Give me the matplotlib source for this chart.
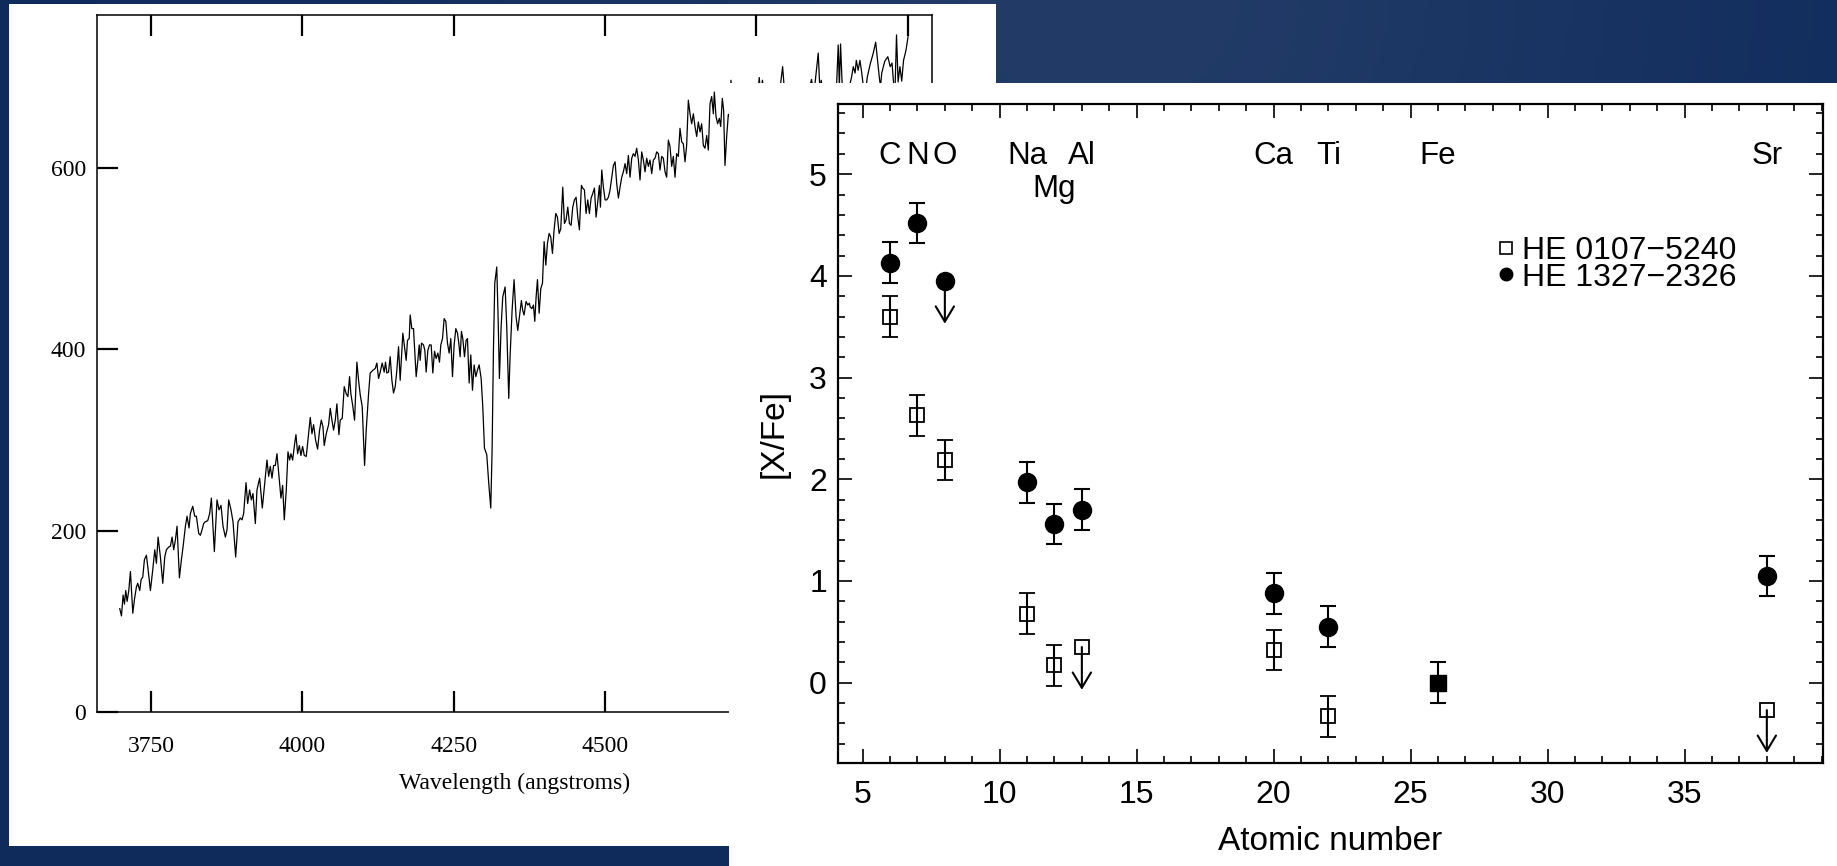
import numpy as np
import matplotlib
matplotlib.use("Agg")
import matplotlib.pyplot as plt
from matplotlib.patches import Rectangle
from matplotlib.lines import Line2D
from matplotlib.ticker import MultipleLocator

# ---------------- spectrum (wavelength in angstroms, flux counts) ----------------
wavelength = [
    3698.6, 3701.4, 3704.1, 3706.3, 3708.5, 3710.7, 3713.5, 3716.2, 3720.1, 3722.8,
    3726.1, 3728.3, 3731.6, 3733.8, 3736.6, 3739.3, 3742.6, 3745.4, 3749.2, 3753.1,
    3756.4, 3759.1, 3761.9, 3765.7, 3769.6, 3772.9, 3775.6, 3779.5, 3782.2, 3785.0,
    3787.7, 3790.5, 3793.2, 3797.1, 3800.4, 3803.1, 3807.0, 3809.7, 3813.0, 3815.2,
    3819.1, 3822.4, 3825.1, 3829.0, 3831.7, 3834.5, 3837.2, 3840.0, 3843.8, 3847.1,
    3849.9, 3854.8, 3859.2, 3862.5, 3865.8, 3869.1, 3873.0, 3875.7, 3878.5, 3882.3,
    3885.6, 3890.0, 3893.9, 3897.7, 3900.5, 3903.2, 3907.1, 3909.8, 3913.1, 3915.9,
    3918.6, 3922.5, 3925.2, 3929.6, 3934.0, 3937.9, 3941.7, 3944.5, 3947.2, 3950.0,
    3952.7, 3955.5, 3958.2, 3962.6, 3964.8, 3967.6, 3970.3, 3973.6, 3976.4, 3979.1,
    3981.3, 3984.1, 3987.4, 3989.6, 3992.3, 3995.1, 3997.8, 4000.6, 4003.3, 4006.6,
    4009.4, 4013.2, 4016.0, 4018.7, 4022.0, 4025.3, 4028.6, 4031.4, 4034.1, 4036.3,
    4039.6, 4043.5, 4046.2, 4049.0, 4051.7, 4054.5, 4057.2, 4060.5, 4062.7, 4066.0,
    4069.3, 4072.6, 4075.4, 4078.1, 4080.3, 4083.1, 4086.4, 4090.2, 4093.0, 4095.7,
    4099.0, 4101.2, 4102.9, 4105.6, 4109.5, 4112.2, 4116.6, 4120.5, 4123.2, 4126.0,
    4128.7, 4132.0, 4135.3, 4137.5, 4139.7, 4142.5, 4145.2, 4148.0, 4150.7, 4153.5,
    4156.2, 4159.0, 4161.7, 4164.5, 4166.1, 4168.9, 4171.6, 4173.8, 4176.6, 4178.2,
    4181.0, 4183.7, 4185.4, 4188.1, 4190.9, 4193.1, 4194.7, 4196.9, 4200.2, 4202.4,
    4204.6, 4207.4, 4210.1, 4212.9, 4215.6, 4218.4, 4221.1, 4223.9, 4226.6, 4228.8,
    4231.6, 4234.3, 4237.1, 4239.8, 4242.6, 4245.3, 4248.1, 4250.8, 4253.6, 4256.3,
    4258.5, 4260.7, 4262.9, 4265.1, 4267.9, 4270.6, 4272.8, 4275.6, 4278.3, 4281.1,
    4283.8, 4286.6, 4289.3, 4292.1, 4295.4, 4298.1, 4300.9, 4304.7, 4308.0, 4311.3,
    4313.5, 4315.7, 4317.9, 4321.2, 4323.4, 4325.6, 4328.4, 4331.1, 4335.0, 4337.7,
    4341.0, 4343.2, 4346.5, 4349.8, 4353.1, 4355.9, 4358.6, 4361.9, 4364.1, 4366.3,
    4369.6, 4372.4, 4375.1, 4376.3, 4379.1, 4381.8, 4384.0, 4386.2, 4388.4, 4391.2,
    4393.9, 4396.7, 4399.4, 4402.2, 4404.9, 4407.7, 4410.4, 4413.2, 4415.9, 4418.7,
    4421.4, 4424.2, 4426.9, 4430.2, 4433.0, 4435.7, 4438.5, 4441.2, 4444.0, 4446.7,
    4449.5, 4452.2, 4455.0, 4457.7, 4461.0, 4463.2, 4466.0, 4468.7, 4471.5, 4474.2,
    4477.0, 4479.7, 4482.5, 4485.2, 4488.0, 4490.7, 4492.4, 4494.6, 4497.3, 4500.1,
    4502.8, 4505.6, 4508.3, 4511.1, 4513.8, 4516.6, 4519.3, 4522.1, 4524.8, 4527.6,
    4530.3, 4533.1, 4535.8, 4538.6, 4541.3, 4544.1, 4546.8, 4549.6, 4552.3, 4555.1,
    4557.8, 4560.6, 4563.3, 4566.1, 4568.8, 4571.6, 4574.3, 4577.1, 4579.8, 4582.6,
    4585.3, 4588.1, 4590.8, 4593.6, 4596.3, 4599.1, 4601.8, 4604.6, 4607.3, 4610.1,
    4612.8, 4615.6, 4618.3, 4621.1, 4623.8, 4626.6, 4629.3, 4632.1, 4634.8, 4637.6,
    4640.4, 4643.1, 4645.9, 4648.6, 4651.4, 4654.1, 4656.9, 4659.6, 4662.4, 4665.1,
    4667.9, 4670.6, 4673.4, 4676.1, 4678.9, 4680.5, 4683.3, 4686.0, 4688.8, 4691.0,
    4693.7, 4695.9, 4698.1, 4700.9, 4703.6, 4705.3,
    4708.0, 4711.0, 4725.0, 4740.0, 4752.0, 4754.7, 4757.0, 4760.0, 4763.0, 4775.0,
    4788.0, 4793.3, 4797.0, 4815.0, 4835.0, 4841.0, 4845.0, 4852.1, 4855.0, 4857.0,
    4860.0, 4872.0, 4882.0, 4885.1, 4887.0, 4889.0, 4892.0, 4900.0, 4907.0, 4910.0,
    4913.0, 4915.0, 4918.0, 4921.0, 4924.0, 4927.0, 4931.0, 4933.0, 4938.0, 4943.0,
    4947.0, 4950.0, 4953.0, 4955.0, 4957.0, 4962.0, 4967.0, 4971.0, 4974.0, 4977.0,
    4979.0, 4981.4, 4984.0, 4987.0, 4990.0, 4993.0, 4997.0, 5000.5,
]
flux = [
    114, 106, 129, 119, 134, 122, 134, 155, 109, 124,
    138, 142, 134, 146, 149, 168, 173, 157, 134, 157,
    179, 164, 193, 171, 142, 171, 179, 182, 183, 193,
    179, 190, 205, 148, 168, 182, 205, 216, 203, 219,
    227, 216, 216, 197, 195, 201, 208, 210, 211, 219,
    236, 177, 234, 223, 228, 205, 193, 201, 234, 223,
    210, 171, 210, 214, 212, 219, 253, 230, 245, 234,
    241, 208, 245, 258, 225, 252, 278, 260, 271, 258,
    272, 272, 285, 252, 236, 250, 212, 245, 287, 278,
    285, 278, 296, 306, 285, 294, 283, 293, 283, 282,
    300, 325, 307, 317, 300, 290, 311, 322, 315, 294,
    307, 317, 335, 322, 311, 322, 340, 306, 322, 324,
    359, 351, 348, 370, 351, 339, 322, 386, 366, 350,
    337, 300, 272, 311, 351, 374, 377, 379, 385, 368,
    375, 385, 375, 386, 374, 375, 392, 366, 352, 359,
    377, 403, 366, 399, 418, 403, 388, 410, 412, 438,
    423, 423, 403, 370, 388, 405, 388, 407, 405, 399,
    375, 399, 405, 405, 374, 398, 390, 396, 386, 405,
    412, 434, 431, 407, 396, 412, 370, 405, 423, 418,
    407, 392, 420, 412, 392, 410, 412, 363, 394, 355,
    383, 370, 377, 383, 368, 337, 291, 284, 252, 225,
    289, 399, 473, 491, 436, 368, 425, 458, 469, 425,
    346, 392, 443, 477, 436, 421, 436, 454, 443, 438,
    453, 449, 451, 447, 445, 449, 431, 458, 477, 440,
    467, 473, 519, 493, 517, 528, 524, 506, 532, 550,
    546, 528, 533, 579, 539, 543, 557, 539, 537, 557,
    565, 568, 546, 532, 581, 578, 576, 550, 565, 550,
    567, 572, 578, 546, 563, 581, 557, 598, 579, 565,
    565, 568, 576, 590, 603, 607, 583, 567, 579, 590,
    596, 605, 594, 614, 590, 611, 616, 613, 622, 609,
    587, 618, 609, 596, 611, 602, 609, 594, 609, 611,
    618, 616, 598, 613, 611, 596, 590, 631, 624, 602,
    613, 590, 616, 613, 644, 629, 627, 607, 625, 675,
    660, 649, 660, 646, 635, 651, 640, 649, 625, 622,
    636, 620, 671, 679, 660, 684, 657, 649, 655, 646,
    677, 664, 603, 635, 659, 657,
    697, 665, 672, 668, 680, 700, 682, 697, 678, 675,
    682, 712, 680, 676, 680, 698, 682, 727, 684, 697,
    680, 676, 684, 736, 690, 737, 686, 680, 700, 712,
    705, 719, 708, 719, 705, 688, 688, 700, 715, 727,
    739, 720, 700, 690, 705, 718, 723, 712, 716, 690,
    688, 747, 695, 712, 696, 719, 730, 745,
]
spec_xticks = [3750, 4000, 4250, 4500, 4750, 5000]
spec_yticks = [0, 200, 400, 600]

# ---------------- abundance pattern [X/Fe] ----------------
elements = ["C", "N", "O", "Na", "Mg", "Al", "Ca", "Ti", "Fe", "Sr"]
atomic_number = [6, 7, 8, 11, 12, 13, 20, 22, 26, 38]
label_row = [0, 0, 0, 0, 1, 0, 0, 0, 0, 0]
xfe_he0107 = [3.60, 2.63, 2.19, 0.68, 0.17, 0.35, 0.32, -0.33, 0.00, -0.27]
limit_he0107 = [False, False, False, False, False, True, False, False, False, True]
xfe_he1327 = [4.13, 4.52, 3.95, 1.97, 1.56, 1.70, 0.88, 0.55, 0.00, 1.05]
limit_he1327 = [False, False, True, False, False, False, False, False, False, False]
xfe_error = 0.2
limit_arrow = 0.42
abund_xticks = [5, 10, 15, 20, 25, 30, 35]
abund_yticks = [0, 1, 2, 3, 4, 5]

W, H = 1837, 866
fig = plt.figure(figsize=(W / 100, H / 100), dpi=100)


def fx(px):
    return px / W


def fy(py):
    return 1 - py / H


# slide background: navy with a soft lighter glow near the top
bg = fig.add_axes([0, 0, 1, 1], zorder=-10)
yy, xx = np.mgrid[0:1:200j, 0:1:400j]
glow = np.exp(-(((xx - 0.60) / 0.33) ** 2 + (yy / 0.55) ** 2))
base = np.array([14, 43, 92]) / 255
light = np.array([34, 59, 103]) / 255
bg.imshow(base + glow[..., None] * (light - base), extent=[0, 1, 0, 1],
          aspect="auto", origin="upper")
bg.set_axis_off()

# white card behind the spectrum
fig.add_artist(Rectangle((fx(9), fy(846)), fx(996) - fx(9), (846 - 4) / H,
                         transform=fig.transFigure, facecolor="white",
                         edgecolor="none", zorder=-5))

# ---------------- spectrum panel ----------------
serif = ["Liberation Serif", "DejaVu Serif"]
ax1 = fig.add_axes([fx(97), fy(712), fx(932) - fx(97), (712 - 15) / H], zorder=0)
ax1.plot(wavelength, flux, color="black", lw=0.9)
ax1.set_xlim(3661, 5040)
ax1.set_ylim(0, 769)
ax1.set_xticks(spec_xticks)
ax1.set_yticks(spec_yticks)
ax1.tick_params(which="major", direction="in", length=15, width=1.6,
                top=True, right=True, labelsize=17)
ax1.tick_params(axis="x", pad=17)
ax1.tick_params(axis="y", pad=8)
for lab in ax1.get_xticklabels() + ax1.get_yticklabels():
    lab.set_family(serif)
for sp in ax1.spines.values():
    sp.set_linewidth(1.1)
ax1.set_xlabel("Wavelength (angstroms)", fontsize=17, family=serif, labelpad=12)

# white card for the abundance plot, overlapping the spectrum
fig.add_artist(Rectangle((fx(729), 0), 1 - fx(729), (866 - 83) / H,
                         transform=fig.transFigure, facecolor="white",
                         edgecolor="none", zorder=1))

# ---------------- abundance panel ----------------
sans = ["Liberation Sans", "DejaVu Sans"]
ax2 = fig.add_axes([fx(838), fy(763), fx(1823) - fx(838), (763 - 104) / H], zorder=2)
ax2.set_facecolor("white")

Z = np.array(atomic_number)
a = np.array(xfe_he0107)
b = np.array(xfe_he1327)
la = np.array(limit_he0107)
lb = np.array(limit_he1327)
shared = np.isclose(a, b)

bar_kw = dict(ecolor="black", elinewidth=1.5, capsize=5.5, capthick=1.5, ls="none")

# HE 0107-5240 : open squares
m = ~la & ~shared
ax2.errorbar(Z[m], a[m], yerr=xfe_error, fmt="s", ms=10, mfc="none", mec="black",
             mew=1.3, zorder=3, **bar_kw)
ax2.plot(Z[la], a[la], "s", ms=10, mfc="none", mec="black", mew=1.3, zorder=3)

# HE 1327-2326 : filled circles
m = ~lb & ~shared
ax2.errorbar(Z[m], b[m], yerr=xfe_error, fmt="o", ms=13, mfc="black", mec="black",
             zorder=3, **bar_kw)
ax2.plot(Z[lb], b[lb], "o", ms=13, mfc="black", mec="black", zorder=3)

# both stars share the same value (reference element): solid square
ax2.errorbar(Z[shared], a[shared], yerr=xfe_error, fmt="s", ms=11, mfc="black",
             mec="black", zorder=3, **bar_kw)

# upper limits
arrow_style = "->,head_length=0.5,head_width=0.3"
for z, v in list(zip(Z[la], a[la])) + list(zip(Z[lb], b[lb])):
    ax2.annotate("", xy=(z, v - limit_arrow), xytext=(z, v), zorder=2.5,
                 arrowprops=dict(arrowstyle=arrow_style, lw=1.5, color="black",
                                 mutation_scale=22, shrinkA=0, shrinkB=0))

# element names along the top
for name, z, row in zip(elements, atomic_number, label_row):
    ax2.text(z, 5.18 - 0.33 * row, name, ha="center", va="center",
             fontsize=22.5, family=sans)

ax2.set_xlim(4.1, 40.05)
ax2.set_ylim(-0.79, 5.69)
ax2.set_xticks(abund_xticks)
ax2.set_yticks(abund_yticks)
ax2.xaxis.set_minor_locator(MultipleLocator(1))
ax2.yaxis.set_minor_locator(MultipleLocator(0.2))
ax2.tick_params(which="both", direction="in", top=True, right=True, width=1.2,
                labelsize=23)
ax2.tick_params(which="major", length=10)
ax2.tick_params(which="minor", length=5)
ax2.tick_params(axis="x", pad=12)
ax2.tick_params(axis="y", pad=8)
for lab in ax2.get_xticklabels() + ax2.get_yticklabels():
    lab.set_family(sans)
for sp in ax2.spines.values():
    sp.set_linewidth(1.6)
ax2.set_xlabel("Atomic number", fontsize=24, family=sans, labelpad=12)
ax2.set_ylabel("[X/Fe]", fontsize=24, family=sans, labelpad=14)

handles = [
    Line2D([], [], marker="s", ls="none", ms=8, mfc="none", mec="black", mew=1.2),
    Line2D([], [], marker="o", ls="none", ms=9, mfc="black", mec="black"),
]
ax2.legend(handles, ["HE 0107\u22125240", "HE 1327\u22122326"], loc="upper left",
           bbox_to_anchor=(0.668, 0.80), frameon=False, prop=dict(family=sans, size=23),
           handlelength=0.6, handletextpad=0.2, borderpad=0, borderaxespad=0,
           labelspacing=-0.1)

fig.savefig("out.png", dpi=100)
